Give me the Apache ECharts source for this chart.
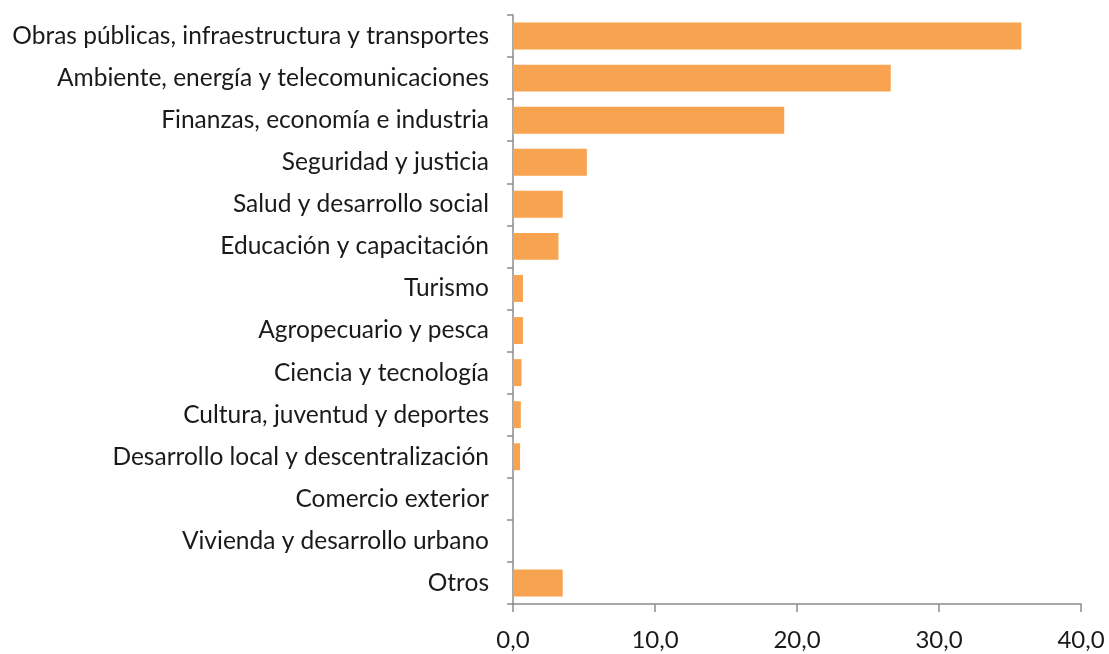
<!DOCTYPE html>
<html>
<head>
<meta charset="utf-8">
<script src="https://cdn.jsdelivr.net/npm/echarts@6/dist/echarts.min.js"></script>
<style>
html,body{margin:0;padding:0;background:#fff;}
#c{width:1109px;height:654px;}
</style>
</head>
<body>
<div id="c"></div>
<script>
var categories = [
  "Obras públicas, infraestructura y transportes",
  "Ambiente, energía y telecomunicaciones",
  "Finanzas, economía e industria",
  "Seguridad y justicia",
  "Salud y desarrollo social",
  "Educación y capacitación",
  "Turismo",
  "Agropecuario y pesca",
  "Ciencia y tecnología",
  "Cultura, juventud y deportes",
  "Desarrollo local y descentralización",
  "Comercio exterior",
  "Vivienda y desarrollo urbano",
  "Otros"
];
var values = [35.8, 26.6, 19.1, 5.2, 3.5, 3.2, 0.7, 0.7, 0.6, 0.55, 0.5, 0, 0, 3.5];
var xTicks = [0, 10, 20, 30, 40];

var chart = echarts.init(document.getElementById('c'));
chart.setOption({
  animation: false,
  grid: {left: 513, right: 28, top: 15, bottom: 50, containLabel: false},
  xAxis: {
    type: 'value',
    min: xTicks[0],
    max: xTicks[xTicks.length - 1],
    interval: 10,
    axisLine: {show: true, lineStyle: {color: '#8c8c8c', width: 1.5}},
    axisTick: {show: true, length: 8, lineStyle: {color: '#8c8c8c', width: 1.5}},
    splitLine: {show: false},
    axisLabel: {
      color: '#1a1a1a', fontSize: 24, fontFamily: 'Lato', margin: 24,
      formatter: function (v) { return v.toFixed(1).replace('.', ','); }
    }
  },
  yAxis: {
    type: 'category',
    data: categories,
    inverse: true,
    axisLine: {show: true, lineStyle: {color: '#8c8c8c', width: 1.5}},
    axisTick: {show: true, length: 6, lineStyle: {color: '#8c8c8c', width: 1.5}},
    axisLabel: {color: '#1a1a1a', fontSize: 24.5, fontFamily: 'Lato', margin: 24}
  },
  series: [{
    type: 'bar',
    data: values,
    barCategoryGap: '36%',
    itemStyle: {color: '#F8A34F'}
  }]
});
</script>
</body>
</html>
